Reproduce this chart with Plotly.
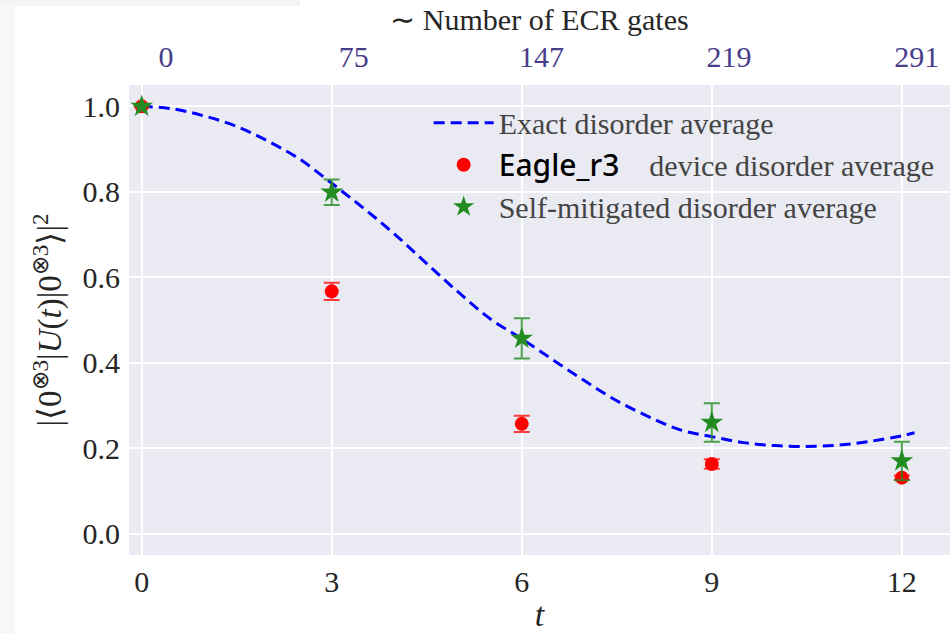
import plotly.graph_objects as go

# ---------------- data ----------------
t_exact = [0, 0.5, 1, 1.5, 2, 2.5, 3, 3.5, 4, 4.5, 5, 5.5, 6, 6.5, 7, 7.5,
           8, 8.5, 9, 9.5, 10, 10.5, 11, 11.5, 12, 12.2]
p_exact = [1.000, 0.994, 0.977, 0.953, 0.918, 0.876, 0.820, 0.762, 0.700,
           0.632, 0.565, 0.503, 0.456, 0.406, 0.357, 0.311, 0.274, 0.243,
           0.227, 0.213, 0.206, 0.204, 0.207, 0.216, 0.229, 0.236]

t_points = [0, 3, 6, 9, 12]
p_device = [1.000, 0.567, 0.257, 0.163, 0.131]
e_device = [0.0, 0.020, 0.019, 0.011, 0.005]
p_mitig = [1.000, 0.799, 0.457, 0.260, 0.170]
e_mitig = [0.0, 0.030, 0.047, 0.045, 0.045]

gate_labels = ["0", "75", "147", "219", "291"]
y_ticks = [0.0, 0.2, 0.4, 0.6, 0.8, 1.0]

SERIF = "Liberation Serif"
FS = 30
TXT = "#262626"

fig = go.Figure()
fig.add_trace(go.Scatter(
    x=t_exact, y=p_exact, mode="lines", line_shape="spline",
    line=dict(color="#0000ff", width=3, dash="11px,6px"),
    name="Exact disorder average"))
fig.add_trace(go.Scatter(
    x=t_points, y=p_device, mode="markers",
    marker=dict(color="#ff0000", size=14, symbol="circle"),
    error_y=dict(type="data", array=e_device, color="rgba(255,0,0,0.75)",
                 thickness=2, width=8),
    name='<span style="font-family:Noto Sans;color:#000000;font-weight:500">Eagle_r3</span>'
         '\u00a0\u00a0\u00a0\u00a0device disorder average'))
fig.add_trace(go.Scatter(
    x=t_points, y=p_mitig, mode="markers",
    marker=dict(color="#228b22", size=17, symbol="star"),
    error_y=dict(type="data", array=e_mitig, color="rgba(34,139,34,0.8)",
                 thickness=2, width=8),
    name="Self-mitigated disorder average"))
# invisible carrier so the top (gate-count) axis is drawn
fig.add_trace(go.Scatter(
    x=t_points, y=p_device, xaxis="x2", mode="markers",
    marker=dict(opacity=0), showlegend=False, hoverinfo="skip"))

xr = [-0.2, 12.76]
xr_top = [-0.59, 12.53]
fig.update_layout(
    width=950, height=633,
    margin=dict(l=129, r=0, t=85, b=78),
    paper_bgcolor="white", plot_bgcolor="#eaeaf2",
    font=dict(family=SERIF, size=FS, color=TXT),
    xaxis=dict(range=xr, tickvals=t_points, showgrid=True, gridcolor="white",
               gridwidth=1.6, zeroline=False, showline=False, ticks="",
               ticklabelstandoff=6,
               tickfont=dict(family=SERIF, size=FS, color=TXT),
               title=dict(text="<i>t</i>", standoff=12,
                          font=dict(family=SERIF, size=34, color=TXT))),
    xaxis2=dict(range=xr_top, overlaying="x", side="top", anchor="y",
                tickvals=t_points, ticktext=gate_labels, showgrid=False,
                zeroline=False, showline=False, ticks="", ticklabelstandoff=11,
                tickfont=dict(family=SERIF, size=FS, color="#483d8b"),
                title=dict(text="\u223c Number of ECR gates", standoff=0,
                           font=dict(family=SERIF, size=FS, color=TXT))),
    yaxis=dict(range=[-0.05, 1.05], tickvals=y_ticks, tickformat=".1f",
               showgrid=True, gridcolor="white", gridwidth=1.6,
               zeroline=False, showline=False, ticks="", ticklabelstandoff=8,
               tickfont=dict(family=SERIF, size=FS, color=TXT),
               title=dict(text="|\u27e80<sup>\u22973</sup>|<i>U</i>(<i>t</i>)|0<sup>\u22973</sup>\u27e9|<sup>2</sup>",
                          standoff=10,
                          font=dict(family=SERIF, size=33, color=TXT))),
    legend=dict(x=0.365, y=0.975, xanchor="left", yanchor="top",
                bgcolor="rgba(0,0,0,0)",
                font=dict(family=SERIF, size=FS, color="#444444"),
                itemwidth=60),
    showlegend=True,
)
# light screenshot strips at the top-left
fig.add_shape(type="rect", xref="paper", yref="paper",
              x0=-129/821, x1=-114/821, y0=-78/470, y1=(470+85)/470,
              fillcolor="#f7f7f8", line_width=0, layer="below")
fig.add_shape(type="rect", xref="paper", yref="paper",
              x0=-129/821, x1=(300-129)/821, y0=(470+85-6)/470, y1=(470+85)/470,
              fillcolor="#f4f4f5", line_width=0, layer="below")

fig.write_html("out.html")
